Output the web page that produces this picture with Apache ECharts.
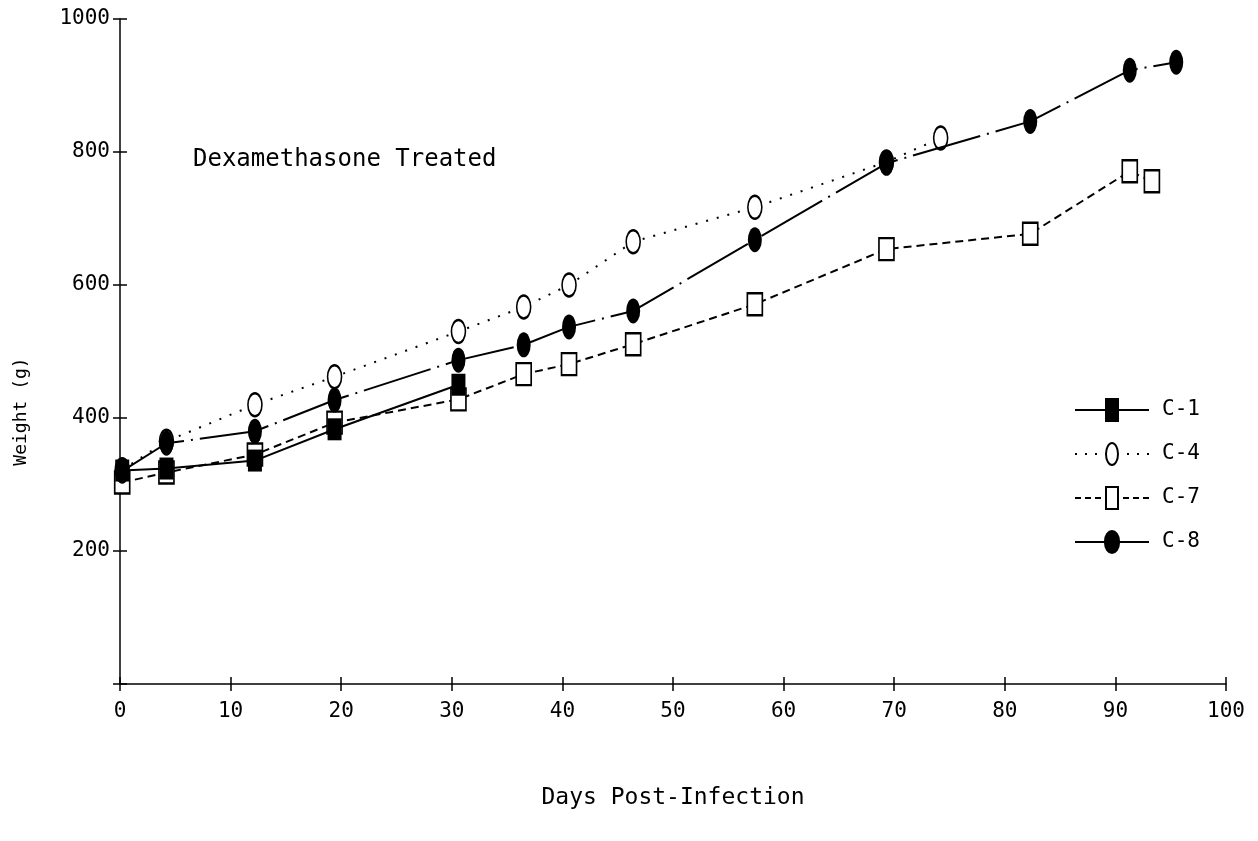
<!DOCTYPE html>
<html>
<head>
<meta charset="utf-8">
<script src="https://cdn.jsdelivr.net/npm/echarts@6/dist/echarts.min.js"></script>
<style>
  html, body { margin: 0; padding: 0; background: #fff; }
  #chart { width: 1258px; height: 841px; }
</style>
</head>
<body>
<div id="chart"></div>
<script>
// days post-infection and weights (g)
var daysC1 = [0.2, 4.2, 12.2, 19.4, 30.6];
var weightC1 = [321, 324, 336, 383, 450];

var daysC4 = [0.2, 4.2, 12.2, 19.4, 30.6, 36.5, 40.6, 46.4, 57.4, 69.3, 74.2];
var weightC4 = [322, 365, 420, 462, 530, 567, 600, 665, 717, 785, 821];

var daysC7 = [0.2, 4.2, 12.2, 19.4, 30.6, 36.5, 40.6, 46.4, 57.4, 69.3, 82.3, 91.3, 93.3];
var weightC7 = [303, 318, 345, 393, 428, 466, 481, 511, 571, 654, 677, 771, 756];

var daysC8 = [0.2, 4.2, 12.2, 19.4, 30.6, 36.5, 40.6, 46.4, 57.4, 69.3, 82.3, 91.3, 95.5];
var weightC8 = [320, 362, 380, 427, 487, 510, 537, 561, 668, 783, 846, 923, 935];

var seriesNames = ['C-1', 'C-4', 'C-7', 'C-8'];
var xTicks = { min: 0, max: 100, step: 10 };
var yTicks = { min: 0, max: 1000, step: 200 };

var ellipse = 'path://M0,-10 A5,10 0 1,1 0,10 A5,10 0 1,1 0,-10 Z';
var font = '"DejaVu Sans Mono", "Liberation Mono", monospace';

// legend keys: line + marker drawn in one 74x24 shape
var legendIcons = {
    'C-1': 'path://M0,11 L30,11 L30,0 L44,0 L44,11 L74,11 L74,13 L44,13 L44,24 L30,24 L30,13 L0,13 Z',
    'C-4': 'path://M0,11 h2 v2 h-2 Z M10,11 h2 v2 h-2 Z M20,11 h2 v2 h-2 Z' +
           ' M52,11 h2 v2 h-2 Z M62,11 h2 v2 h-2 Z M72,11 h2 v2 h-2 Z' +
           ' M30,12 A7,12 0 1,1 44,12 A7,12 0 1,1 30,12 Z M32,12 A5,10 0 1,0 42,12 A5,10 0 1,0 32,12 Z',
    'C-7': 'path://M0,11 h6 v2 h-6 Z M10,11 h6 v2 h-6 Z M20,11 h6 v2 h-6 Z' +
           ' M48,11 h6 v2 h-6 Z M58,11 h6 v2 h-6 Z M68,11 h6 v2 h-6 Z' +
           ' M30,0 L44,0 L44,24 L30,24 Z M32,2 L32,22 L42,22 L42,2 Z',
    'C-8': 'path://M0,11 L29,11 A8,12 0 0,1 45,11 L74,11 L74,13 L45,13 A8,12 0 0,1 29,13 L0,13 Z'
};

function pairs(xs, ys) {
    return xs.map(function (x, i) { return [x, ys[i]]; });
}

var myChart = echarts.init(document.getElementById('chart'));

var baseX = {
    type: 'value', min: xTicks.min, max: xTicks.max, interval: xTicks.step,
    position: 'bottom', splitLine: { show: false }
};
var baseY = {
    type: 'value', min: yTicks.min, max: yTicks.max, interval: yTicks.step,
    position: 'left', splitLine: { show: false }
};

var option = {
    animation: false,
    backgroundColor: '#fff',
    grid: { left: 120, right: 32, top: 19, bottom: 157 },
    xAxis: [
        Object.assign({}, baseX, {
            name: 'Days Post-Infection',
            nameLocation: 'middle',
            nameGap: 103,
            nameTextStyle: { fontFamily: font, fontSize: 23, color: '#000' },
            axisLine: { onZero: false, lineStyle: { color: '#000', width: 1.5 } },
            axisTick: { inside: false, length: 7, lineStyle: { color: '#000', width: 1.5 } },
            axisLabel: { margin: 17, fontFamily: font, fontSize: 21, color: '#000' }
        }),
        Object.assign({}, baseX, {
            axisLine: { show: false },
            axisTick: { inside: true, length: 7, lineStyle: { color: '#000', width: 1.5 } },
            axisLabel: { show: false }
        })
    ],
    yAxis: [
        Object.assign({}, baseY, {
            name: 'Weight (g)',
            nameLocation: 'middle',
            nameGap: 90,
            nameRotate: 90,
            nameTextStyle: { fontFamily: font, fontSize: 18, color: '#000', padding: [0, 120, 0, 0] },
            axisLine: { onZero: false, lineStyle: { color: '#000', width: 1.5 } },
            axisTick: { inside: false, length: 7, lineStyle: { color: '#000', width: 1.5 } },
            axisLabel: {
                margin: 10, fontFamily: font, fontSize: 21, color: '#000',
                formatter: function (v) { return v === 0 ? '' : v; }
            }
        }),
        Object.assign({}, baseY, {
            axisLine: { show: false, onZero: false },
            axisTick: { inside: true, length: 7, lineStyle: { color: '#000', width: 1.5 } },
            axisLabel: { show: false }
        })
    ],
    legend: {
        orient: 'vertical',
        left: 1075,
        top: 398,
        padding: 0,
        itemWidth: 74,
        itemHeight: 24,
        itemGap: 20,
        symbolKeepAspect: false,
        textStyle: { fontFamily: font, fontSize: 21, color: '#000', padding: [0, 0, 0, 8] },
        data: seriesNames.map(function (n) {
            return {
                name: n,
                icon: legendIcons[n],
                itemStyle: { color: '#000', borderWidth: 0, borderColor: 'transparent' }
            };
        })
    },
    graphic: [{
        type: 'text',
        left: 193,
        top: 148,
        style: { text: 'Dexamethasone Treated', font: '24px ' + font, fill: '#000' }
    }],
    series: [
        {
            name: 'C-7', type: 'line', data: pairs(daysC7, weightC7),
            symbol: 'rect', symbolSize: [15, 22],
            lineStyle: { color: '#000', width: 2, type: [8, 5] },
            itemStyle: { color: '#fff', borderColor: '#000', borderWidth: 2 },
            z: 2
        },
        {
            name: 'C-4', type: 'line', data: pairs(daysC4, weightC4),
            symbol: ellipse, symbolSize: [14, 23],
            lineStyle: { color: '#000', width: 2, type: [2, 9] },
            itemStyle: { color: '#fff', borderColor: '#000', borderWidth: 2 },
            z: 3
        },
        {
            name: 'C-1', type: 'line', data: pairs(daysC1, weightC1),
            symbol: 'rect', symbolSize: [14, 22],
            lineStyle: { color: '#000', width: 2 },
            itemStyle: { color: '#000' },
            z: 4
        },
        {
            name: 'C-8', type: 'line', data: pairs(daysC8, weightC8),
            symbol: ellipse, symbolSize: [14, 25],
            lineStyle: { color: '#000', width: 2, type: [70, 7, 2, 7] },
            itemStyle: { color: '#000' },
            z: 5
        }
    ]
};

myChart.setOption(option);
</script>
</body>
</html>
